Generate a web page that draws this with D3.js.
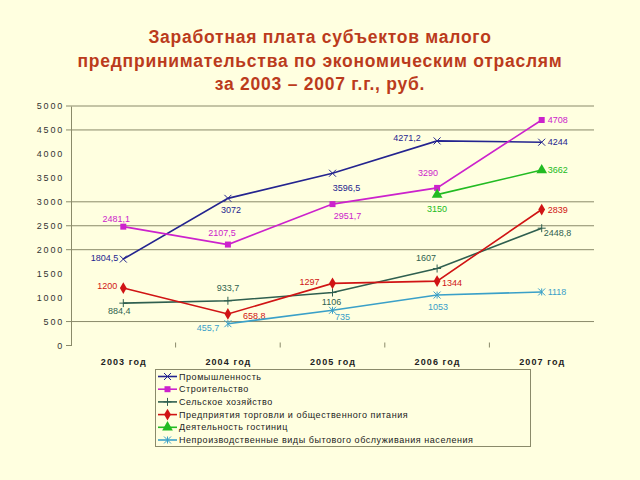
<!DOCTYPE html>
<html><head><meta charset="utf-8">
<script src="https://cdn.jsdelivr.net/npm/d3@7"></script>
<style>
html,body{margin:0;padding:0;background:#ffffe0;}
svg{display:block;font-family:Arial,"Liberation Sans",sans-serif;}
</style></head>
<body><svg id="c" width="640" height="480"></svg>
<script>
// ---- data ----
const years = ["2003 год", "2004 год", "2005 год", "2006 год", "2007 год"];
const seriesNames = [
  "Промышленность",
  "Строительство",
  "Сельское хозяйство",
  "Предприятия торговли и общественного питания",
  "Деятельность гостиниц",
  "Непроизводственные виды бытового обслуживания населения"
];
const industry     = [1804.5, 3072, 3596.5, 4271.2, 4244];
const construction = [2481.1, 2107.5, 2951.7, 3290, 4708];
const agriculture  = [884.4, 933.7, 1106, 1607, 2448.8];
const trade        = [1200, 658.8, 1297, 1344, 2839];
const hotels       = [null, null, null, 3150, 3662];
const services     = [null, 455.7, 735, 1053, 1118];
const yTicks = [0, 500, 1000, 1500, 2000, 2500, 3000, 3500, 4000, 4500, 5000];
const gridValues = [500, 2000, 2500, 3000, 4500, 5000];
const titleLines = [
  "Заработная плата субъектов малого",
  "предпринимательства по экономическим отраслям",
  "за 2003 – 2007 г.г., руб."
];

// ---- styling / layout (not data) ----
const FONT = "Arial, 'Liberation Sans', sans-serif";
const colors  = ["#24248f", "#cc22cc", "#2f5f4f", "#d01414", "#22bb22", "#3aa0c8"];
const markers = ["x", "square", "plus", "diamond", "triangle", "star"];
// label placement: [anchor, dx, dy] per point
const labelPos = [
  [["end",-5,-1],["middle",3,11],["middle",14,14.5],["middle",-30,-3],["start",6,0]],
  [["middle",-7,-8],["middle",-6,-11.5],["middle",15,11.5],["middle",-9,-15],["start",6,0]],
  [["middle",-4,8],["middle",0,-13],["middle",-1,9],["middle",-11,-11],["start",2,5]],
  [["end",-6,-2],["start",15,2],["end",-13,-2],["start",5,2],["start",6,0]],
  [null,null,null,["middle",0,14],["start",6,0]],
  [null,["middle",-20,4],["middle",10,7],["middle",1,12],["start",6,0]]
];
const allSeries = [industry, construction, agriculture, trade, hotels, services];

const svg = d3.select("#c");
svg.append("rect").attr("width",640).attr("height",480).attr("fill","#ffffe0");

// title
svg.append("g").selectAll("text").data(titleLines).join("text")
  .attr("x", 320).attr("y", (d,i)=>43 + i*23.7)
  .attr("text-anchor","middle").attr("font-family", FONT)
  .attr("font-size", 17.5).attr("font-weight","bold")
  .attr("letter-spacing", 0.75)
  .attr("fill","#bb3b1c").text(d=>d);

const x = d3.scalePoint().domain(years).range([71, 594]).padding(0.5);
const y = d3.scaleLinear().domain([0, 5000]).range([345.5, 106]);

// gridlines
svg.append("g").selectAll("line").data(gridValues).join("line")
  .attr("x1", 71).attr("x2", 594)
  .attr("y1", d=>y(d)).attr("y2", d=>y(d))
  .attr("stroke", "#8a8a6a").attr("stroke-width", 1);

// y axis
const yAxis = d3.axisLeft(y).tickValues(yTicks).tickFormat(d3.format("d")).tickSize(0).tickPadding(7);
const gy = svg.append("g").attr("transform","translate(71,0)").call(yAxis)
  .attr("font-family", FONT);
gy.select(".domain").attr("stroke","#8a8a6a");
gy.selectAll("text").attr("font-size", 9).attr("letter-spacing", 1.8).attr("fill","#333");
// small ticks on y axis at grid values
svg.append("g").selectAll("line").data(gridValues.concat([0])).join("line")
  .attr("x1", 66).attr("x2", 71).attr("y1", d=>y(d)).attr("y2", d=>y(d))
  .attr("stroke","#8a8a6a");

// x axis labels
const xAxis = d3.axisBottom(x).tickSize(0).tickPadding(13);
const gx = svg.append("g").attr("transform", `translate(0,${y(0)})`).call(xAxis)
  .attr("font-family", FONT);
gx.select(".domain").remove();
gx.selectAll("text").attr("font-size", 9).attr("font-weight","bold")
  .attr("letter-spacing", 1.1).attr("fill","#222");
// category separator ticks
const step = x.step();
svg.append("g").selectAll("line").data(years.slice(1)).join("line")
  .attr("x1", d=>x(d)-step/2).attr("x2", d=>x(d)-step/2)
  .attr("y1", y(0)-3).attr("y2", y(0)+2)
  .attr("stroke","#8a8a6a");

// marker drawing
function drawMarker(g, type, color) {
  if (type === "x" || type === "star") {
    const r = 3.5;
    g.append("path").attr("d", `M${-r},${-r}L${r},${r}M${-r},${r}L${r},${-r}` + (type==="star" ? `M0,${-r}L0,${r}` : ""))
      .attr("stroke", color).attr("stroke-width", 1).attr("fill","none");
  } else if (type === "plus") {
    g.append("path").attr("d", `M0,-4L0,4M-4,0L4,0`).attr("stroke", color).attr("stroke-width",1);
  } else {
    const sym = type === "square" ? d3.symbolSquare : type === "diamond" ? d3.symbolDiamond : d3.symbolTriangle;
    const size = type === "square" ? 36 : type === "diamond" ? 40 : 50;
    g.append("path").attr("d", d3.symbol(sym, size)()).attr("fill", color);
  }
}

const line = d3.line().defined(d=>d.v != null).x(d=>x(d.c)).y(d=>y(d.v));
allSeries.forEach((vals, si) => {
  const pts = vals.map((v,i)=>({c: years[i], v, i}));
  const g = svg.append("g").attr("font-family", FONT);
  g.append("path").datum(pts).attr("d", line)
    .attr("fill","none").attr("stroke", colors[si]).attr("stroke-width", 1.6);
  pts.filter(p=>p.v != null).forEach(p => {
    const mg = g.append("g").attr("transform", `translate(${x(p.c)},${y(p.v)})`);
    drawMarker(mg, markers[si], colors[si]);
    const lp = labelPos[si][p.i];
    g.append("text")
      .attr("x", x(p.c) + lp[1]).attr("y", y(p.v) + lp[2])
      .attr("dy", "0.35em").attr("text-anchor", lp[0])
      .attr("font-size", 9).attr("fill", colors[si])
      .text(String(p.v).replace(".", ","));
  });
});

// legend
const lg = svg.append("g").attr("font-family", FONT);
lg.append("rect").attr("x",155.5).attr("y",369.5).attr("width",375).attr("height",77)
  .attr("fill","none").attr("stroke","#8a8a6a");
seriesNames.forEach((n, i) => {
  const yy = 376.5 + i*12.7;
  lg.append("line").attr("x1",158).attr("x2",177).attr("y1",yy).attr("y2",yy)
    .attr("stroke", colors[i]).attr("stroke-width",1.6);
  const mg = lg.append("g").attr("transform", `translate(167.5,${yy})`);
  drawMarker(mg, markers[i], colors[i]);
  lg.append("text").attr("x",179).attr("y",yy).attr("dy","0.35em")
    .attr("font-size",9).attr("letter-spacing",0.55).attr("fill","#222").text(n);
});
</script></body></html>
